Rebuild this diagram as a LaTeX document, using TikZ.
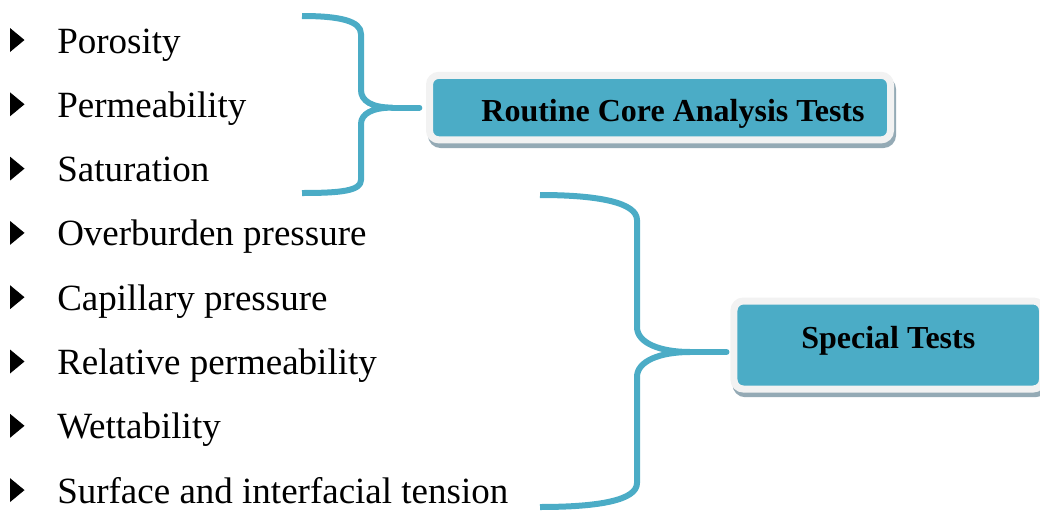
\documentclass[tikz,border=0pt]{standalone}
\usepackage{fontspec}
\setmainfont{Liberation Serif}
\usetikzlibrary{shadows}

\definecolor{brace}{HTML}{4BACC6}
\definecolor{ring}{HTML}{F2F2F2}
\definecolor{shade}{HTML}{94AAB5}

\begin{document}
\begin{tikzpicture}[
    x=0.75pt,y=-0.75pt,
    item/.style={anchor=base west,inner sep=0pt,font=\fontsize{27.75}{30}\selectfont},
    bullet/.style={fill=black},
    test/.style={draw=ring,line width=5.25pt,fill=brace,rounded corners=7pt,
      font=\fontsize{24}{28}\selectfont\bfseries,
      drop shadow={draw=shade,fill=shade,opacity=1,shadow xshift=1.5pt,shadow yshift=-3.5pt}},
    curly/.style={draw=brace,line width=4.5pt,line join=round}
  ]
  \useasboundingbox (0,0) rectangle (1040,511);
  \clip (0,0) rectangle (1040,511);

  % the measurements, one per row
  \foreach \name [count=\k from 0] in {Porosity,Permeability,Saturation,Overburden pressure,Capillary pressure,Relative permeability,Wettability,Surface and interfacial tension}{
    \pgfmathsetmacro{\yc}{40+64.3*\k}
    \fill[bullet] (10,\yc-12) -- (24.5,\yc) -- (10,\yc+12) -- cycle;
    \node[item] (i\k) at (57,\yc+13) {\name};
  }

  % the two test groups
  \node[test,minimum width=345.75pt,minimum height=48.4pt,text height=20.25pt,text depth=0pt]
    (routine) at (660,107.6) {\hspace*{19.5pt}Routine Core Analysis Tests};
  \node[test,minimum width=231.4pt,minimum height=66pt,text height=10pt,text depth=5.5pt]
    (special) at (888.25,345) {Special Tests};

  \coordinate (rtip) at ([xshift=-5pt]routine.west);
  \coordinate (stip) at ([xshift=-3pt,yshift=-5.25pt]special.west);

  % braces
  \draw[curly] (302,16) .. controls (340,16) and (361,21) .. (361,34) -- (361,90)
    .. controls (361,101) and (372,107.6) .. (392,107.6)
    .. controls (372,107.6) and (361,114) .. (361,124) -- (361,180)
    .. controls (361,191) and (340,193) .. (302,193);
  \draw[curly,line cap=round] (392,107.6) -- (rtip);

  \draw[curly] (540,195) .. controls (600,195) and (637,203) .. (637,220) -- (637,327)
    .. controls (637,343) and (660,352) .. (690,352)
    .. controls (660,352) and (637,361) .. (637,377) -- (637,483)
    .. controls (637,500) and (600,507) .. (540,507);
  \draw[curly,line cap=round] (690,352) -- (stip);
\end{tikzpicture}
\end{document}
